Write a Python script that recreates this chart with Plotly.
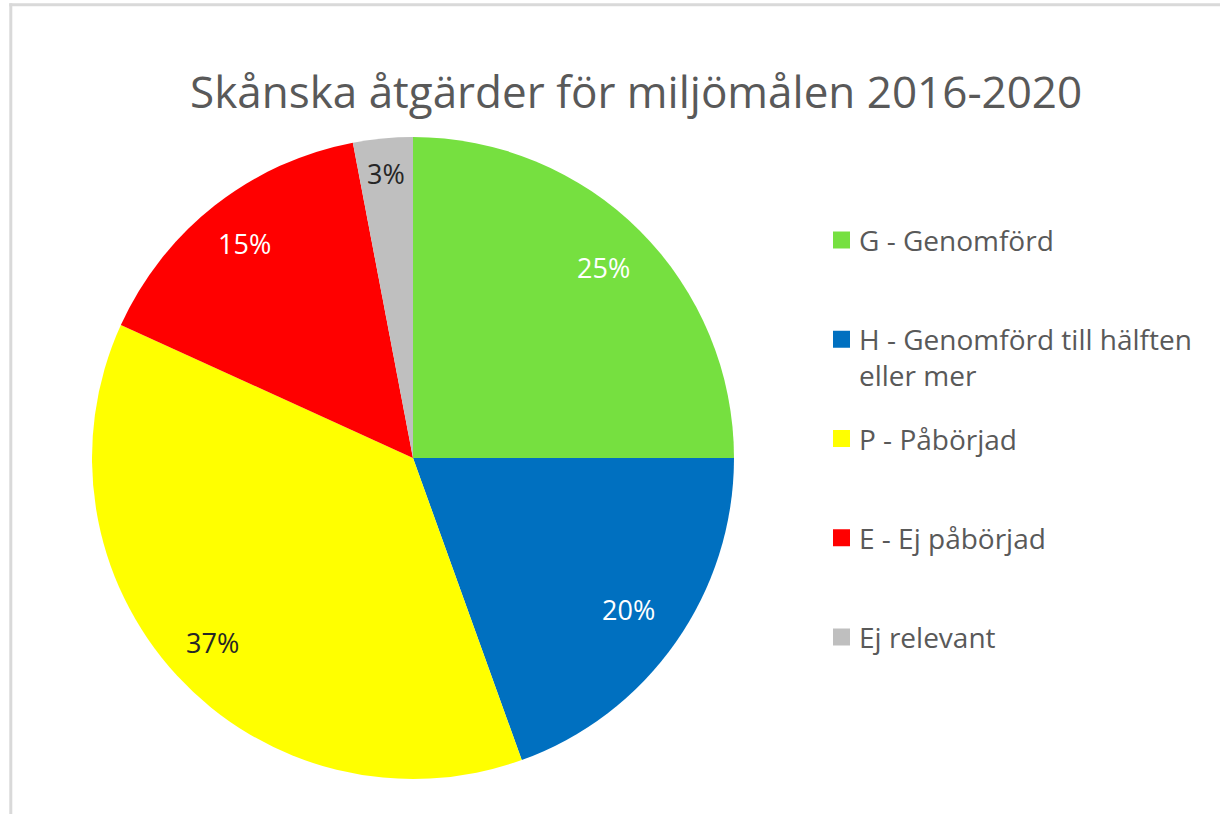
import math
import plotly.graph_objects as go

# ---- data ----
categories = ["G - Genomförd", "H - Genomförd till hälften eller mer",
              "P - Påbörjad", "E - Ej påbörjad", "Ej relevant"]
legend_labels = ["G - Genomförd", "H - Genomförd till hälften<br>eller mer",
                 "P - Påbörjad", "E - Ej påbörjad", "Ej relevant"]
values = [25.0, 19.5, 37.3, 15.2, 3.0]
colors = ["#76E040", "#0070C0", "#FFFF00", "#FF0000", "#BFBFBF"]
label_colors = ["#FFFFFF", "#FFFFFF", "#262626", "#FFFFFF", "#262626"]
title_text = "Skånska åtgärder för miljömålen 2016-2020"

# ---- layout constants (pixels) ----
W, H = 1220, 814
PIE_CX, PIE_CY, PIE_R = 413, 458, 321
LABEL_RF = [0.84, 0.82, 0.85, 0.85, 0.89]
LEG_X, LEG_Y0, LEG_DY, SQ = 833, 240, 99.25, 17
FONT = "Open Sans"
TXT = "#595959"

def px(x):
    return x / W

def py(y):
    return 1 - y / H

fig = go.Figure()
fig.add_trace(go.Pie(
    labels=categories, values=values, sort=False, direction="clockwise",
    rotation=0, marker=dict(colors=colors, line=dict(width=0)),
    textinfo="none", showlegend=False, hoverinfo="label+percent",
    domain=dict(x=[px(PIE_CX - PIE_R), px(PIE_CX + PIE_R)],
                y=[py(PIE_CY + PIE_R), py(PIE_CY - PIE_R)]),
))

annotations = []
total = sum(values)
cum = 0.0
for v, c, rf in zip(values, label_colors, LABEL_RF):
    mid = (cum + v / 2) / total * 2 * math.pi
    cum += v
    x = PIE_CX + rf * PIE_R * math.sin(mid)
    y = PIE_CY - rf * PIE_R * math.cos(mid)
    annotations.append(dict(x=px(x), y=py(y), xref="paper", yref="paper",
                            text=f"{round(v / total * 100):.0f}%", showarrow=False,
                            font=dict(family=FONT, size=27, color=c),
                            xanchor="center", yanchor="middle"))

shapes = [
    dict(type="line", xref="paper", yref="paper",
         x0=px(10.8), x1=px(10.8), y0=0, y1=py(3.2),
         line=dict(color="#D9D9D9", width=3)),
    dict(type="line", xref="paper", yref="paper",
         x0=px(9.3), x1=1, y0=py(4.7), y1=py(4.7),
         line=dict(color="#D9D9D9", width=3)),
]

for i, (lab, col) in enumerate(zip(legend_labels, colors)):
    yc = LEG_Y0 + i * LEG_DY
    shapes.append(dict(type="rect", xref="paper", yref="paper",
                       x0=px(LEG_X), x1=px(LEG_X + SQ),
                       y0=py(yc + SQ / 2), y1=py(yc - SQ / 2),
                       line=dict(width=0), fillcolor=col))
    annotations.append(dict(x=px(LEG_X + SQ + 7), y=py(yc - 21), xref="paper", yref="paper",
                            text=lab, showarrow=False, align="left",
                            font=dict(family=FONT, size=28, color=TXT),
                            xanchor="left", yanchor="top"))

annotations.append(dict(x=px(636), y=py(91), xref="paper", yref="paper",
                        text=title_text, showarrow=False,
                        font=dict(family=FONT, size=44, color=TXT),
                        xanchor="center", yanchor="middle"))

fig.update_layout(width=W, height=H, margin=dict(l=0, r=0, t=0, b=0),
                  paper_bgcolor="white", plot_bgcolor="white",
                  annotations=annotations, shapes=shapes)

fig.write_html("out.html", config={"displayModeBar": False},
               post_script="document.body.style.margin='0';")
